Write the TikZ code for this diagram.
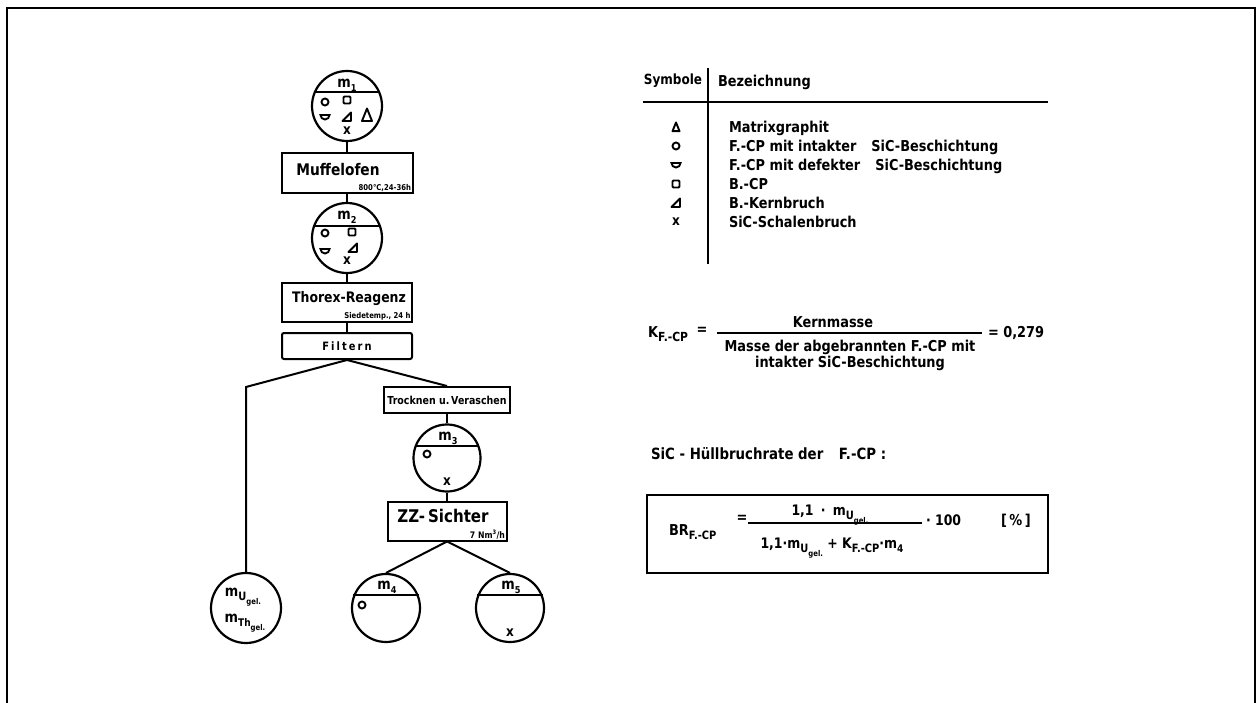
\documentclass[tikz,border=0pt]{standalone}
\usepackage{fontspec}
\setmainfont{DejaVu Sans}[FakeStretch=0.86]
\usepackage{tikz}
\usetikzlibrary{positioning}
\newcommand{\schrift}[1]{\fontsize{#1}{#1}\selectfont\bfseries}
\newcommand{\tief}[2][11.5]{\raisebox{-4pt}{\fontsize{#1}{#1}\selectfont #2}}

\begin{document}
\begin{tikzpicture}[x=1pt, y=1pt, line width=2pt, font=\bfseries,
  kasten/.style={draw, line width=2pt, inner sep=0pt},
  probe/.style={circle, draw, line width=2.2pt, inner sep=0pt, minimum size=70pt},
  mlbl/.style={font=\schrift{15}, inner sep=0pt},
  klein/.style={font=\schrift{8}, inner sep=1.5pt},
  tab/.style={font=\schrift{15}, anchor=base west, inner sep=0pt},
  xsym/.style={font=\schrift{14}, inner sep=0pt},
  pics/kreis/.style={code={\draw[line width=1.9pt] (0,0) circle[radius=3.5];}},
  pics/quadrat/.style={code={\draw[line width=1.9pt, rounded corners=1pt] (-3.5,-3.5) rectangle (3.5,3.5);}},
  pics/defekt/.style={code={\draw[line width=1.9pt] (-4.5,2) -- (4.5,2) arc[start angle=0, end angle=-180, radius=4.5] -- cycle;}},
  pics/kern/.style={code={\draw[line width=1.9pt, line join=round] (-4.5,-4) -- (4,-4) -- (4,4.5) -- cycle;}},
  pics/dreieck/.style={code={\draw[line width=1.9pt, line join=round] (-5,-6) -- (5,-6) -- (0,6.5) -- cycle;}}]
  \useasboundingbox (0,0) rectangle (1258,-703);
  % Rahmen
  \draw (7,-703) -- (7,-8) -- (1255,-8) -- (1255,-703);

  % Probe m1
  \node[probe] (m1) at (347,-106) {};
  \draw (m1.158) -- (m1.22);
  \node[mlbl] (m1lbl) at (347,-85) {m\tief[9.5]{1}};
  \pic at (325,-102) {kreis};
  \pic at (347,-100) {quadrat};
  \pic at (325,-117) {defekt};
  \pic at (347,-117) {kern};
  \pic at (367,-115) {dreieck};
  \node[xsym] (m1x) at (347,-131) {x};

  \node[kasten, minimum width=131pt, minimum height=40pt] (muffel) at (347,-173) {};
  \node[font=\schrift{16}] (muffeltxt) at (338,-170) {Muffelofen};
  \node[klein, anchor=south east] (muffelsub) at (muffel.south east) {800°C,24-36h};

  % Probe m2
  \node[probe] (m2) at (347,-238) {};
  \draw (m2.160) -- (m2.20);
  \node[mlbl] (m2lbl) at (347,-217) {m\tief[9.5]{2}};
  \pic at (325,-233) {kreis};
  \pic at (352,-232) {quadrat};
  \pic at (353,-248) {kern};
  \pic at (325,-251) {defekt};
  \node[xsym] (m2x) at (347,-261) {x};

  \node[kasten, minimum width=130pt, minimum height=39pt] (thorex) at (347,-302.5) {};
  \node[font=\schrift{14.5}] (thorextxt) at (349,-299) {Thorex-Reagenz};
  \node[klein, anchor=south east] (thorexsub) at (thorex.south east) {Siedetemp., 24 h};
  \node[kasten, rounded corners=2pt, minimum width=130pt, minimum height=26pt, font=\schrift{11.5}] (filtern) at (347,-346) {\addfontfeature{LetterSpace=18}Filtern};

  \node[kasten, minimum width=126pt, minimum height=26pt, font=\schrift{11}] (trocknen) at (447,-400) {Trocknen u.\,Veraschen};

  % Probe m3
  \node[probe, minimum size=67pt] (m3) at (447,-458) {};
  \draw (m3.159) -- (m3.21);
  \node[mlbl] (m3lbl) at (448,-438) {m\tief[9.5]{3}};
  \pic at (427,-454) {kreis};
  \node[xsym] (m3x) at (447,-482) {x};

  \node[kasten, minimum width=119pt, minimum height=39pt] (zz) at (447,-521) {};
  \node[font=\schrift{17.5}] (zztxt) at (443,-516) {ZZ-\,Sichter};
  \node[klein, font=\schrift{9}, anchor=south east] (zzsub) at (zz.south east) {7 Nm\textsuperscript{3}/h};

  % Proben m4, m5 und Rest
  \node[probe, minimum size=68pt] (m4) at (386,-608) {};
  \draw (m4.159) -- (m4.21);
  \node[mlbl] (m4lbl) at (387,-587) {m\tief[9.5]{4}};
  \pic at (362,-605) {kreis};
  \node[probe, minimum size=68pt] (m5) at (510,-608) {};
  \draw (m5.159) -- (m5.21);
  \node[mlbl] (m5lbl) at (511,-587) {m\tief[9.5]{5}};
  \node[xsym] (m5x) at (510,-633) {x};
  \node[probe] (rest) at (246,-608) {};
  \node[mlbl] (restu) at (243,-597) {m\tief[11.5]{U\tief[8]{gel.}}};
  \node[mlbl] (restth) at (245,-623) {m\tief[10.5]{Th\tief[8]{gel.}}};

  \coordinate (knick) at (246,-387);
  \draw (m1.south) -- (muffel.north);
  \draw (muffel.south) -- (m2.north);
  \draw (m2.south) -- (thorex.north);
  \draw (thorex.south) -- (filtern.north);
  \draw (filtern.south) -- (knick) -- (rest.north);
  \draw (filtern.south) -- (trocknen.north);
  \draw (trocknen.south) -- (m3.north);
  \draw (m3.south) -- (zz.north);
  \draw (zz.south) -- (m4.north);
  \draw (zz.south) -- (m5.north);

  % Tabelle
  \node[font=\schrift{14}] (kopfsym) at (673,-81) {Symbole};
  \node[tab] (kopfbez) at (717,-87) {Bezeichnung};
  \coordinate (vo) at (708,-68);
  \coordinate (vu) at (708,-264);
  \coordinate (hl) at (643,-102);
  \coordinate (hr) at (1048,-102);
  \draw (vo) -- (vu);
  \draw (hl) -- (hr);
  \pic[scale=0.7] at (676,-127) {dreieck};
  \node[tab] (z1) at (728,-133) {Matrixgraphit};
  \pic at (676,-146) {kreis};
  \node[tab] (z2) at (728,-152) {F.-CP mit intakter\quad SiC-Beschichtung};
  \pic at (676,-165) {defekt};
  \node[tab] (z3) at (728,-171) {F.-CP mit defekter\quad SiC-Beschichtung};
  \pic at (676,-184) {quadrat};
  \node[tab] (z4) at (728,-190) {B.-CP};
  \pic at (676,-203) {kern};
  \node[tab] (z5) at (728,-209) {B.-Kernbruch};
  \node[xsym] (z6sym) at (676,-222) {x};
  \node[tab] (z6) at (728,-228) {SiC-Schalenbruch};

  % Kernmassefaktor
  \node[tab] (kfcp) at (647,-337) {K\tief[12.5]{F.-CP}};
  \node[font=\schrift{15}] (kgl) at (702,-331) {=};
  \coordinate (kbl) at (717,-333);
  \coordinate (kbr) at (982,-333);
  \draw (kbl) -- (kbr);
  \node[font=\schrift{15}, anchor=base, inner sep=0pt] (kzaehl) at (833,-327) {Kernmasse};
  \node[font=\fontsize{15}{14}\selectfont\bfseries, align=center, anchor=north, inner sep=0pt] (knenn) at (850,-339) {Masse der abgebrannten F.-CP mit\\intakter SiC-Beschichtung};
  \node[tab, right=5pt of kbr, anchor=west] (kwert) {= 0,279};

  % Bruchrate
  \node[tab, font=\schrift{15.5}] (huell) at (650,-459) {SiC - Hüllbruchrate der\quad F.-CP :};
  \node[kasten, minimum width=401pt, minimum height=78pt] (brbox) at (847.5,-534) {};
  \node[tab] (br) at (668,-535) {BR\tief[11.5]{F.-CP}};
  \node[font=\schrift{15}] (brgl) at (742,-519) {=};
  \coordinate (bbl) at (748,-523);
  \coordinate (bbr) at (922,-523);
  \draw (bbl) -- (bbr);
  \node[font=\schrift{14.5}, anchor=base, inner sep=0pt] (bzaehl) at (830,-515) {1,1\enspace·\enspace m\tief[11.5]{U\tief[8]{gel.}}};
  \node[font=\schrift{14.5}, anchor=base, inner sep=0pt] (bnenn) at (832,-548) {1,1·m\tief[11.5]{U\tief[8]{gel.}} + K\tief[11.5]{F.-CP}·m\tief[10.5]{4}};
  \node[tab, font=\schrift{14.5}] (bhundert) at (925,-525) {· 100};
  \node[tab] (bproz) at (1000,-525) {[\,\%\,]};
\end{tikzpicture}
\end{document}
